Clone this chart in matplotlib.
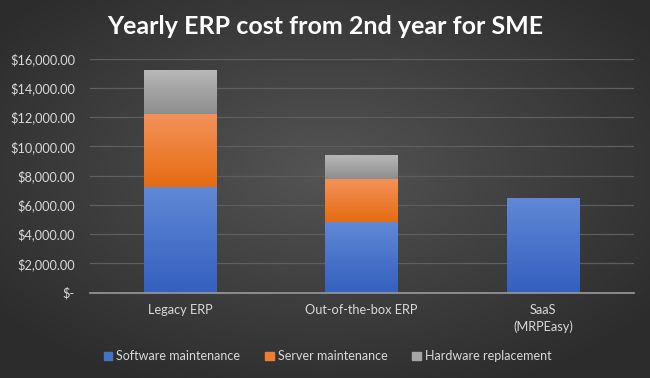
import matplotlib
matplotlib.use("Agg")
import matplotlib.pyplot as plt
import numpy as np
from matplotlib.ticker import FuncFormatter
from matplotlib.colors import LinearSegmentedColormap
from matplotlib.patches import Patch

categories = ["Legacy ERP", "Out-of-the-box ERP", "SaaS\n(MRPEasy)"]
software = [7200, 4800, 6500]
server = [5000, 3000, 0]
hardware = [3000, 1600, 0]
series_names = ["Software maintenance", "Server maintenance", "Hardware replacement"]
yticks = [0, 2000, 4000, 6000, 8000, 10000, 12000, 14000, 16000]

FONT = ["Lato", "DejaVu Sans"]
plt.rcParams['font.family'] = FONT

fig = plt.figure(figsize=(6.5, 3.78), dpi=100)

# background radial gradient
bg = fig.add_axes([0, 0, 1, 1], zorder=-10)
yy, xx = np.mgrid[0:1:200j, 0:1:300j]
r = np.sqrt(((xx - 0.5) / 0.75) ** 2 + ((yy - 0.45) / 0.75) ** 2)
bg_cmap = LinearSegmentedColormap.from_list("bg", ["#545454", "#2c2c2c"])
bg.imshow(r, cmap=bg_cmap, aspect="auto", extent=[0, 1, 0, 1], vmin=0, vmax=0.85)
bg.set_axis_off()

ax = fig.add_axes([0.1377, 0.2257, 0.837, 0.619])
ax.set_facecolor("none")

x = np.arange(len(categories))
w = 0.4
b1 = ax.bar(x, software, w, color="#4472c4", zorder=3)
b2 = ax.bar(x, server, w, bottom=software, color="#ed7d31", zorder=3)
bottom3 = [a + b for a, b in zip(software, server)]
b3 = ax.bar(x, hardware, w, bottom=bottom3, color="#a5a5a5", zorder=3)

grads = [("#6088d6", "#3460bf"), ("#f4925a", "#e56c12"), ("#b8b8b8", "#8d8d8d")]
for bars, (ctop, cbot) in zip([b1, b2, b3], grads):
    cmap = LinearSegmentedColormap.from_list("g", [cbot, ctop])
    for p in bars:
        if p.get_height() <= 0:
            continue
        x0, y0 = p.get_x(), p.get_y()
        x1, y1 = x0 + p.get_width(), y0 + p.get_height()
        grad = np.linspace(0, 1, 100).reshape(-1, 1)
        im = ax.imshow(grad, cmap=cmap, origin="lower", aspect="auto",
                       extent=[x0, x1, y0, y1], zorder=4)
        im.set_clip_path(p)

ax.set_xlim(-0.5, 2.5)
ax.set_ylim(0, 16000)
ax.set_yticks(yticks)

def fmt(v, pos):
    if v == 0:
        return "$-"
    return "${:,.2f}".format(v)

ax.yaxis.set_major_formatter(FuncFormatter(fmt))
ax.set_xticks(x)
ax.set_xticklabels(categories, linespacing=1.45)
ax.tick_params(axis="both", length=0, colors="#d9d9d9", labelsize=9.2)
ax.tick_params(axis="y", pad=10.5)
ax.tick_params(axis="x", pad=8)
ax.yaxis.grid(True, color="#5e5e5e", linewidth=0.9, zorder=0)
for s in ["top", "right", "left"]:
    ax.spines[s].set_visible(False)
ax.spines["bottom"].set_color("#9a9a9a")
ax.spines["bottom"].set_linewidth(1.2)
ax.spines["bottom"].set_zorder(5)

fig.text(0.5, 0.929, "Yearly ERP cost from 2nd year for SME", ha="center", va="center",
         color="white", fontsize=18, fontweight="bold")

handles = [Patch(color=c) for c in ["#4472c4", "#ed7d31", "#a5a5a5"]]
fig.legend(handles, series_names, loc="center", bbox_to_anchor=(0.504, 0.057), ncol=3,
           frameon=False, fontsize=9, labelcolor="#d9d9d9", handlelength=0.7,
           handleheight=0.7, handletextpad=0.3, columnspacing=2.0)

fig.savefig("out.png", dpi=100)
